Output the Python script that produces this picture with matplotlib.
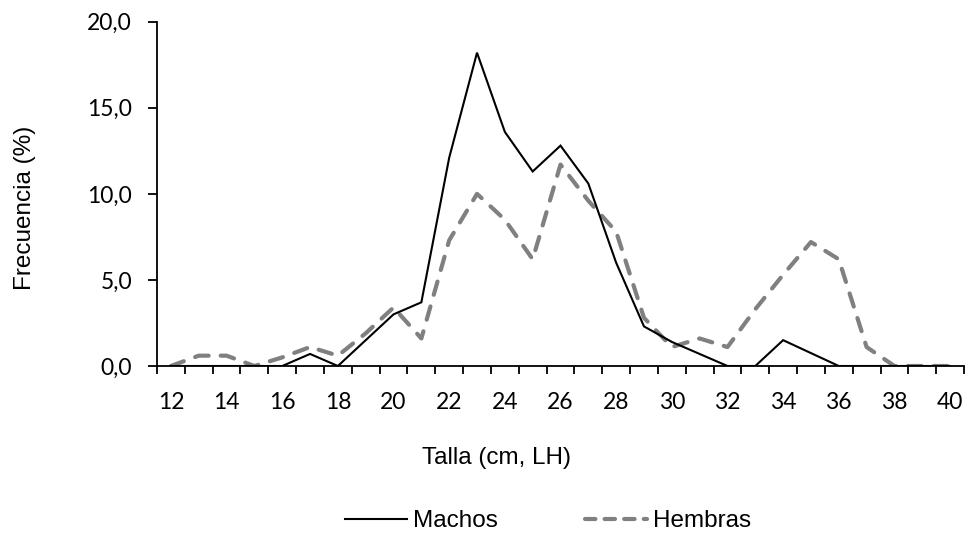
import matplotlib
matplotlib.use("Agg")
import matplotlib.pyplot as plt
from matplotlib.lines import Line2D
from matplotlib.ticker import FixedLocator, FuncFormatter
from matplotlib import font_manager

# Data
tallas = list(range(12, 41))
machos = [0, 0, 0, 0, 0, 0.7, 0, 1.5, 3.0, 3.7, 12.1, 18.2, 13.6, 11.3, 12.8,
          10.6, 6.0, 2.3, 1.4, 0.7, 0, 0, 1.5, 0.75, 0, 0, 0, 0, 0]
hembras = [0, 0.6, 0.6, 0, 0.5, 1.1, 0.6, 1.9, 3.4, 1.6, 7.3, 10.0, 8.5, 6.2, 11.7,
           9.6, 7.8, 2.8, 1.1, 1.6, 1.1, 3.3, 5.3, 7.2, 6.2, 1.1, 0, 0, 0]
xtick_labels = list(range(12, 41, 2))
yticks = [0, 5, 10, 15, 20]

available = {f.name for f in font_manager.fontManager.ttflist}
if 'Liberation Sans Narrow' in available:
    narrow = ['Liberation Sans Narrow', 'DejaVu Sans']
    tsize = 20
else:
    narrow = ['Liberation Sans', 'DejaVu Sans']
    tsize = 17.5
tickfont = ['Lato', 'DejaVu Sans']

fig = plt.figure(figsize=(9.67, 5.33), dpi=100)
ax = fig.add_axes([157/967, 1-366/533, (964-157)/967, (366-21.7)/533])

ax.plot(tallas, machos, color='black', lw=1.5, solid_joinstyle='miter', zorder=3)
l2, = ax.plot(tallas, hembras, color='#808080', lw=3.0, dash_capstyle='round',
              dash_joinstyle='round', zorder=2)
l2.set_dashes((3.3, 2.9))

ax.set_xlim(tallas[0]-0.5, tallas[-1]+0.5)
ax.set_ylim(0, 20)

for s in ['top', 'right']:
    ax.spines[s].set_visible(False)
for s in ['left', 'bottom']:
    ax.spines[s].set_linewidth(1.3)
    ax.spines[s].set_color('black')

ax.xaxis.set_major_locator(FixedLocator(xtick_labels))
ax.set_xticklabels([str(v) for v in xtick_labels])
ax.xaxis.set_minor_locator(FixedLocator([t - 0.5 for t in tallas] + [tallas[-1] + 0.5]))
ax.tick_params(axis='x', which='major', length=0, pad=19)
ax.tick_params(axis='x', which='minor', length=6, width=1.3, direction='out', color='black')

ax.yaxis.set_major_locator(FixedLocator(yticks))
ax.yaxis.set_major_formatter(FuncFormatter(lambda v, p: f"{v:.1f}".replace('.', ',')))
ax.tick_params(axis='y', which='major', length=6.5, width=1.3, direction='out', pad=11.5)

for lab in ax.get_xticklabels() + ax.get_yticklabels():
    lab.set_family(tickfont)
    lab.set_fontsize(16.5)
    lab.set_color('black')

fig.text(497/967, 1-458/533, 'Talla (cm, LH)', ha='center', va='center',
         family=narrow, fontsize=tsize)
fig.text(25/967, 1-207.5/533, 'Frecuencia (%)', ha='center', va='center',
         rotation=90, family=narrow, fontsize=tsize)

h1 = Line2D([], [], color='black', lw=1.5)
h2 = Line2D([], [], color='#808080', lw=3.0, dash_capstyle='round')
h2.set_dashes((2.5, 2.2))
leg = fig.legend([h1, h2], ['Machos', 'Hembras'], loc='center',
                 bbox_to_anchor=(548/967, 1-521/533), ncol=2, frameon=False,
                 prop={'family': narrow, 'size': tsize}, handlelength=44.6/tsize,
                 handletextpad=4.3/tsize, columnspacing=62.6/tsize,
                 borderpad=0, borderaxespad=0)

fig.savefig('out.png', dpi=100)
